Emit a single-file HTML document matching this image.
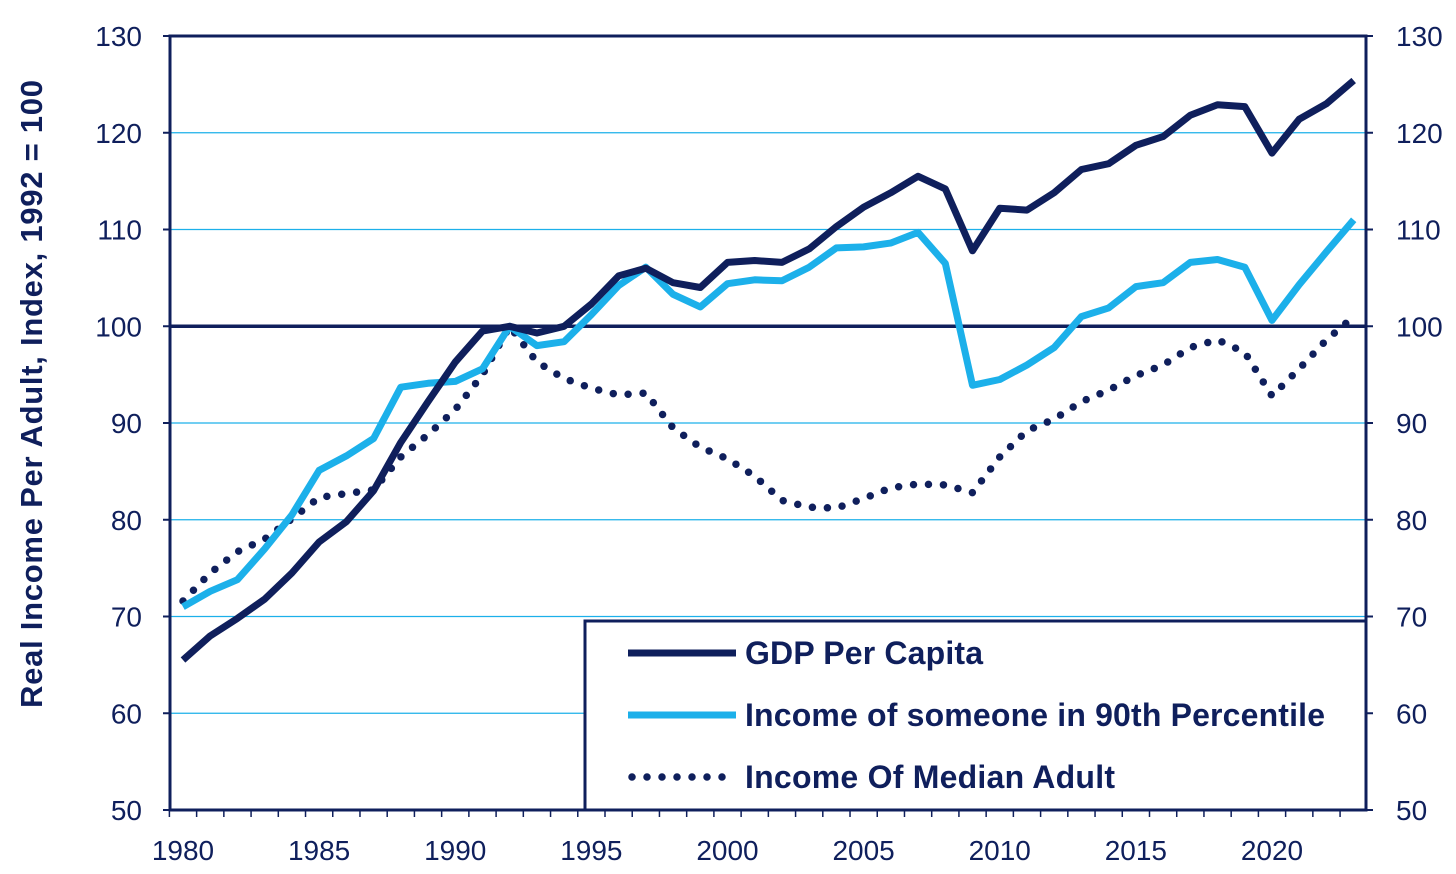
<!DOCTYPE html>
<html><head><meta charset="utf-8"><style>
body{margin:0;background:#fff;}
svg{display:block;font-family:"Liberation Sans",Arial,sans-serif;}
</style></head><body>
<svg id="chart" width="1456" height="874"></svg>
<script>
const years=[];for(let y=1980;y<=2023;y++)years.push(y);
const gdp=[65.5,68,69.8,71.8,74.5,77.7,79.8,83,88,92.2,96.3,99.5,100,99.3,100,102.3,105.2,106,104.5,104,106.6,106.8,106.6,108,110.3,112.3,113.8,115.5,114.2,107.8,112.2,112,113.8,116.2,116.8,118.7,119.6,121.8,122.9,122.7,117.9,121.4,123,125.4];
const p90=[71,72.6,73.8,77,80.5,85.1,86.6,88.4,93.7,94.1,94.3,95.6,100,98,98.4,101.2,104.2,106.1,103.3,102,104.4,104.8,104.7,106.1,108.1,108.2,108.6,109.7,106.5,93.9,94.5,96,97.8,101,101.9,104.1,104.5,106.6,106.9,106.1,100.6,104.3,107.7,111];
const median=[71.6,74.5,76.7,78,80.1,82.3,82.7,83.1,86.5,88.8,91.4,95,100,96.3,94.6,93.6,92.9,93.1,89.5,87.5,86.3,84.5,82,81.3,81.2,82.2,83.3,83.7,83.6,82.8,86.5,89.2,90.4,92.2,93.4,94.9,96,97.8,98.6,97.3,92.8,95.6,98.6,101];
const yTicks=[50,60,70,80,90,100,110,120,130];
const xTicks=[1980,1985,1990,1995,2000,2005,2010,2015,2020];
const NAVY="#0f1f5c",LB="#1cb0ea";
const L=170,R=1366,T=36,B=810;
const xs=y=>183+(y-1980)*(1272-183)/40;
const ys=v=>B-(v-50)/80*(B-T);
const svg=document.getElementById('chart');
const NS="http://www.w3.org/2000/svg";
function el(t,a,p){const e=document.createElementNS(NS,t);for(const k in a)e.setAttribute(k,a[k]);(p||svg).appendChild(e);return e;}
yTicks.forEach(v=>{
 if(v>50&&v<130){const g=el('line',{x1:L,x2:R,y1:ys(v),y2:ys(v),stroke:LB,'stroke-width':1.2});
 
 }
 const t1=el('text',{x:142,y:ys(v)+10,'text-anchor':'end','font-size':28,fill:NAVY});t1.textContent=v;
 
 
 const t2=el('text',{x:1396,y:ys(v)+10,'text-anchor':'start','font-size':28,fill:NAVY});t2.textContent=v;
 
 
 el('line',{x1:L-7,x2:L,y1:ys(v),y2:ys(v),stroke:NAVY,'stroke-width':2});
 el('line',{x1:R,x2:R+7,y1:ys(v),y2:ys(v),stroke:NAVY,'stroke-width':2});
});
xTicks.forEach(y=>{
 const t=el('text',{x:xs(y),y:860,'text-anchor':'middle','font-size':28,fill:NAVY});t.textContent=y;
 
 
});
years.forEach(y=>el('line',{x1:xs(y)-13.6,x2:xs(y)-13.6,y1:B,y2:B+7,stroke:NAVY,'stroke-width':1.5}));
const ref=el('line',{x1:L,x2:R,y1:ys(100),y2:ys(100),stroke:NAVY,'stroke-width':3.5});


function path(arr){return arr.map((v,i)=>(i?'L':'M')+xs(years[i]).toFixed(1)+','+ys(v).toFixed(1)).join(' ');}
const pm=el('path',{d:path(median),fill:'none',stroke:NAVY,'stroke-width':7.5,'stroke-linecap':'round','stroke-dasharray':'0 15'});


const pp=el('path',{d:path(p90),fill:'none',stroke:LB,'stroke-width':7,'stroke-linejoin':'round'});


const pg=el('path',{d:path(gdp),fill:'none',stroke:NAVY,'stroke-width':7,'stroke-linejoin':'round'});


const fr=el('rect',{x:L,y:T,width:R-L,height:B-T,fill:'none',stroke:NAVY,'stroke-width':3});


const lg=el('g',{});


el('rect',{x:585,y:621,width:781,height:189,fill:'#fff',stroke:NAVY,'stroke-width':3},lg);
const items=[["GDP Per Capita",NAVY,0],["Income of someone in 90th Percentile",LB,0],["Income Of Median Adult",NAVY,1]];
items.forEach((it,i)=>{
 const y=653+i*62;
 if(it[2])el('line',{x1:632,x2:735,y1:y,y2:y,stroke:it[1],'stroke-width':7.5,'stroke-linecap':'round','stroke-dasharray':'0 15'},lg);
 else el('line',{x1:628,x2:736,y1:y,y2:y,stroke:it[1],'stroke-width':7},lg);
 const t=el('text',{x:745,y:y+11,'font-size':32,'font-weight':'bold',fill:NAVY,textLength:it[0]==="GDP Per Capita"?238:(i===1?580:370)},lg);t.textContent=it[0];
 
 
});
const yt=el('text',{x:0,y:0,'font-size':31,'font-weight':'bold',fill:NAVY,'text-anchor':'middle',transform:'translate(42,394) rotate(-90)',textLength:628});
yt.textContent="Real Income Per Adult, Index, 1992 = 100";


</script>
</body></html>
